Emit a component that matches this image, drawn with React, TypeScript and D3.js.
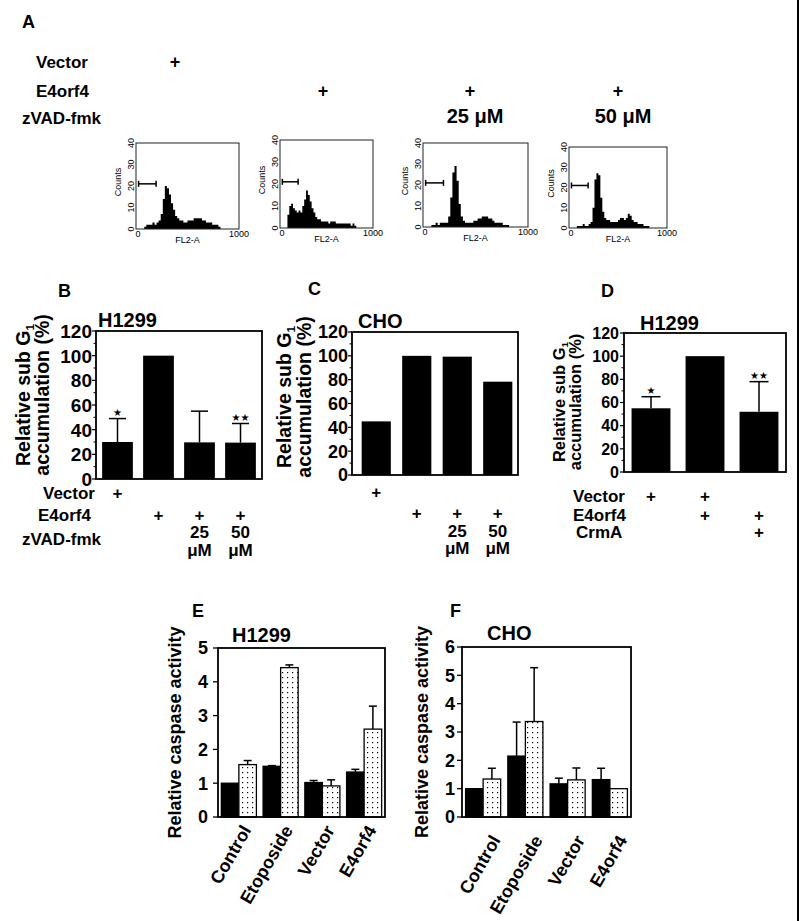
import React from 'react';
import * as d3 from 'd3';

const FONT = "'Liberation Sans', Arial, Helvetica, sans-serif";

// ---------- Panel A: DNA-content histograms (counts per 20-unit FL2-A bin, 0..1000) ----------
const HIST_BIN = 20;
const HIST_COUNT_TICKS = [0, 10, 20, 30, 40];
const HIST_GATE = [25, 195];
const HIST_GATE_COUNT = 21;
const histVector = [0,0,0,0,1,2,2,2,3,2,3,4,7,14,20,19,16,12,9,6,5,4,4,3,3,4,4,4,5,5,5,5,4,4,3,3,3,2,2,2,1,0,0,0,0,0,0,0,0,0];
const histE4orf4 = [0,0,0,0,6,10,11,9,8,7,8,7,10,13,17,15,12,9,7,5,4,4,3,3,3,3,2,3,3,3,2,2,2,2,2,2,2,2,1,2,1,0,0,0,0,0,0,0,0,0];
const histZvad25 = [0,0,0,0,1,1,2,1,2,2,2,2,5,14,26,29,22,11,5,3,2,2,2,2,3,3,4,4,5,5,5,4,4,3,2,2,2,2,1,1,1,0,0,0,0,0,0,0,0,0];
const histZvad50 = [0,0,0,0,1,1,1,2,1,1,2,3,10,24,27,26,15,8,5,4,4,3,3,3,3,4,5,5,4,5,7,6,4,3,3,2,2,2,1,1,1,0,0,0,0,0,0,0,0,0];

// ---------- Panels B, C, D: relative sub-G1 accumulation (%) ----------
const SUBG1_TICKS = [0, 20, 40, 60, 80, 100, 120];
const SUBG1_MINOR = [10, 30, 50, 70, 90, 110];
const B_VALUES = [30, 100, 29.7, 29.5];
const B_ERR_TOP = [49, null, 55, 45];
const B_STARS = ['★', '', '', '★★'];
const C_VALUES = [45, 100, 99.3, 78.3];
const D_VALUES = [55, 100, 52];
const D_ERR_TOP = [65, null, 78];
const D_STARS = ['★', '', '★★'];
const ZVAD_VECTOR = ['+', '', '', ''];
const ZVAD_E4ORF4 = ['', '+', '+', '+'];
const ZVAD_DOSE = ['', '', '25', '50'];
const ZVAD_UNIT = ['', '', 'μM', 'μM'];
const CRMA_VECTOR = ['+', '+', ''];
const CRMA_E4ORF4 = ['', '+', '+'];
const CRMA_CRMA = ['', '', '+'];

// ---------- Panels E, F: relative caspase activity ----------
const CASPASE_GROUPS = ['Control', 'Etoposide', 'Vector', 'E4orf4'];
const E_TICKS = [0, 1, 2, 3, 4, 5];
const E_SOLID = [1.0, 1.5, 1.02, 1.33];
const E_SOLID_ERR = [0, 0.02, 0.06, 0.08];
const E_DOTTED = [1.55, 4.42, 0.92, 2.6];
const E_DOTTED_ERR = [0.12, 0.08, 0.18, 0.68];
const F_TICKS = [0, 1, 2, 3, 4, 5, 6];
const F_SOLID = [1.0, 2.15, 1.17, 1.32];
const F_SOLID_ERR = [0, 1.2, 0.2, 0.4];
const F_DOTTED = [1.34, 3.37, 1.31, 1.0];
const F_DOTTED_ERR = [0.38, 1.9, 0.42, 0];

type Frame = { x0: number; x1: number; y0: number; y1: number };

function Histogram({ data, f }: { data: number[]; f: Frame }) {
  const x = d3.scaleLinear().domain([0, 1000]).range([f.x0, f.x1]);
  const y = d3.scaleLinear().domain([0, 40]).range([f.y1, f.y0]);
  const pts: [number, number][] = data.map((c, i) => [i * HIST_BIN, c]);
  pts.push([1000, data[data.length - 1]]);
  const area = d3
    .area<[number, number]>()
    .x((d) => x(d[0]))
    .y0(y(0))
    .y1((d) => y(d[1]))
    .curve(d3.curveStepAfter);
  const gy = y(HIST_GATE_COUNT);
  const cy = (f.y0 + f.y1) / 2;
  return (
    <g fontFamily={FONT} fontSize={9}>
      <path d={area(pts) || ''} fill="#000" />
      <rect x={f.x0} y={f.y0} width={f.x1 - f.x0} height={f.y1 - f.y0} fill="none" stroke="#222" strokeWidth={1} />
      <line x1={x(HIST_GATE[0])} x2={x(HIST_GATE[1])} y1={gy} y2={gy} stroke="#000" strokeWidth={1.5} />
      <line x1={x(HIST_GATE[0])} x2={x(HIST_GATE[0])} y1={gy - 3} y2={gy + 3} stroke="#000" strokeWidth={1.5} />
      <line x1={x(HIST_GATE[1])} x2={x(HIST_GATE[1])} y1={gy - 3} y2={gy + 3} stroke="#000" strokeWidth={1.5} />
      {HIST_COUNT_TICKS.map((t) => (
        <text key={t} transform={`translate(${f.x0 - 2},${y(t)}) rotate(-90)`} textAnchor="middle">
          {t}
        </text>
      ))}
      <text transform={`translate(${f.x0 - 15},${cy - 4}) rotate(-90)`} textAnchor="middle">
        Counts
      </text>
      <text x={x(0) + 2} y={f.y1 + 8} textAnchor="middle">0</text>
      <text x={x(1000)} y={f.y1 + 8} textAnchor="middle">1000</text>
      <text x={(f.x0 + f.x1) / 2} y={f.y1 + 14} textAnchor="middle">FL2-A</text>
    </g>
  );
}

function PanelA() {
  const bold = { fontWeight: 'bold' as const, fontFamily: FONT };
  return (
    <g>
      <text x={22} y={28} fontSize={18} {...bold}>A</text>
      <text x={36} y={68} fontSize={17} {...bold}>Vector</text>
      <text x={36} y={97} fontSize={17} {...bold}>E4orf4</text>
      <text x={22} y={124} fontSize={17} {...bold}>zVAD-fmk</text>
      <text x={175} y={68} fontSize={18} textAnchor="middle" {...bold}>+</text>
      <text x={323} y={97} fontSize={18} textAnchor="middle" {...bold}>+</text>
      <text x={470} y={97} fontSize={18} textAnchor="middle" {...bold}>+</text>
      <text x={618} y={97} fontSize={18} textAnchor="middle" {...bold}>+</text>
      <text x={475} y={123} fontSize={20} textAnchor="middle" {...bold}>25 μM</text>
      <text x={623} y={123} fontSize={20} textAnchor="middle" {...bold}>50 μM</text>
      <Histogram data={histVector} f={{ x0: 136, x1: 239, y0: 143, y1: 229 }} />
      <Histogram data={histE4orf4} f={{ x0: 280, x1: 373, y0: 140, y1: 228 }} />
      <Histogram data={histZvad25} f={{ x0: 423, x1: 528, y0: 143, y1: 227 }} />
      <Histogram data={histZvad50} f={{ x0: 569, x1: 667, y0: 147, y1: 228 }} />
    </g>
  );
}

type Row = { label?: string; lx?: number; lb?: number; base: number; marks: string[] };

function SubG1Chart(p: {
  letter: string; letterPos: [number, number];
  title: string; titlePos: [number, number];
  values: number[]; errTop?: (number | null)[]; stars?: string[];
  f: Frame; band: [number, number]; padIn: number; padOut: number;
  tickFont: number; tickGap: number;
  ylab: { a: number; b: number; cy: number; fs: number };
  rows: Row[]; capW: number;
}) {
  const idx = d3.range(p.values.length).map(String);
  const x = d3.scaleBand().domain(idx).range(p.band).paddingInner(p.padIn).paddingOuter(p.padOut);
  const y = d3.scaleLinear().domain([0, 120]).range([p.f.y1, p.f.y0]);
  const bw = x.bandwidth();
  const cx = (i: number) => (x(String(i)) as number) + bw / 2;
  return (
    <g fontFamily={FONT} fontWeight="bold">
      <text x={p.letterPos[0]} y={p.letterPos[1]} fontSize={18}>{p.letter}</text>
      <text x={p.titlePos[0]} y={p.titlePos[1]} fontSize={20}>{p.title}</text>
      {p.values.map((v, i) => (
        <rect key={i} x={x(String(i))} y={y(v)} width={bw} height={y(0) - y(v)} fill="#000" />
      ))}
      {p.errTop &&
        p.errTop.map((e, i) =>
          e == null ? null : (
            <g key={i} stroke="#000" strokeWidth={1.5}>
              <line x1={cx(i)} x2={cx(i)} y1={y(p.values[i])} y2={y(e)} />
              <line x1={cx(i) - p.capW / 2} x2={cx(i) + p.capW / 2} y1={y(e)} y2={y(e)} />
            </g>
          )
        )}
      {p.stars &&
        p.stars.map((s, i) =>
          s && p.errTop && p.errTop[i] != null ? (
            <text key={i} x={cx(i)} y={y(p.errTop[i] as number) - 3} fontSize={10} textAnchor="middle"
              fontFamily="'DejaVu Sans', sans-serif" fontWeight="normal">{s}</text>
          ) : null
        )}
      <rect x={p.f.x0} y={p.f.y0} width={p.f.x1 - p.f.x0} height={p.f.y1 - p.f.y0} fill="none" stroke="#000" strokeWidth={1.8} />
      {SUBG1_TICKS.map((t) => (
        <g key={t}>
          <line x1={p.f.x0 - 4} x2={p.f.x0} y1={y(t)} y2={y(t)} stroke="#000" strokeWidth={1.2} />
          <text x={p.f.x0 - p.tickGap} y={y(t)} dy="0.36em" textAnchor="end" fontSize={p.tickFont}>{t}</text>
        </g>
      ))}
      {SUBG1_MINOR.map((t) => (
        <line key={t} x1={p.f.x0 - 2.5} x2={p.f.x0} y1={y(t)} y2={y(t)} stroke="#000" strokeWidth={1} />
      ))}
      <text transform={`translate(${p.ylab.a},${p.ylab.cy}) rotate(-90)`} textAnchor="middle" fontSize={p.ylab.fs}>
        Relative sub G<tspan fontSize="0.6em" dy="0.3em">1</tspan>
      </text>
      <text transform={`translate(${p.ylab.b},${p.ylab.cy}) rotate(-90)`} textAnchor="middle" fontSize={p.ylab.fs}>
        accumulation (%)
      </text>
      {p.rows.map((r, ri) => (
        <g key={ri} fontSize={17}>
          {r.label && <text x={r.lx} y={r.lb ?? r.base}>{r.label}</text>}
          {r.marks.map((m, i) => (m ? <text key={i} x={cx(i)} y={r.base} textAnchor="middle">{m}</text> : null))}
        </g>
      ))}
    </g>
  );
}

function CaspaseChart(p: {
  letter: string; letterPos: [number, number];
  title: string; titlePos: [number, number];
  f: Frame; max: number; ticks: number[];
  band: [number, number]; padIn: number; padOut: number;
  solid: number[]; solidErr: number[]; dotted: number[]; dottedErr: number[];
  tickGap: number; ylabX: number; lab: { dx: number; dy: number };
}) {
  const x = d3.scaleBand().domain(CASPASE_GROUPS).range(p.band).paddingInner(p.padIn).paddingOuter(p.padOut);
  const inner = d3.scaleBand().domain(['solid', 'dotted']).range([0, x.bandwidth()]);
  const y = d3.scaleLinear().domain([0, p.max]).range([p.f.y1, p.f.y0]);
  const iw = inner.bandwidth();
  const series = [
    { key: 'solid', vals: p.solid, errs: p.solidErr, fill: '#000' },
    { key: 'dotted', vals: p.dotted, errs: p.dottedErr, fill: 'url(#dots)' },
  ];
  return (
    <g fontFamily={FONT} fontWeight="bold">
      <text x={p.letterPos[0]} y={p.letterPos[1]} fontSize={18}>{p.letter}</text>
      <text x={p.titlePos[0]} y={p.titlePos[1]} fontSize={20}>{p.title}</text>
      {series.map((s) =>
        CASPASE_GROUPS.map((g, i) => {
          const bx = (x(g) as number) + (inner(s.key) as number);
          const v = s.vals[i];
          const e = s.errs[i];
          const c = bx + iw / 2;
          return (
            <g key={s.key + g}>
              {e > 0 && (
                <g stroke="#000" strokeWidth={1.5}>
                  <line x1={c} x2={c} y1={y(v)} y2={y(v + e)} />
                  <line x1={c - 4} x2={c + 4} y1={y(v + e)} y2={y(v + e)} />
                </g>
              )}
              <rect x={bx} y={y(v)} width={iw} height={y(0) - y(v)} fill={s.fill} stroke="#000" strokeWidth={1.3} />
            </g>
          );
        })
      )}
      <rect x={p.f.x0} y={p.f.y0} width={p.f.x1 - p.f.x0} height={p.f.y1 - p.f.y0} fill="none" stroke="#000" strokeWidth={1.8} />
      {p.ticks.map((t) => (
        <g key={t}>
          <line x1={p.f.x0 - 5} x2={p.f.x0} y1={y(t)} y2={y(t)} stroke="#000" strokeWidth={1.3} />
          <text x={p.f.x0 - p.tickGap} y={y(t)} dy="0.36em" textAnchor="end" fontSize={18}>{t}</text>
        </g>
      ))}
      <text transform={`translate(${p.ylabX},${(p.f.y0 + p.f.y1) / 2}) rotate(-90)`} textAnchor="middle" fontSize={18}>
        Relative caspase activity
      </text>
      {CASPASE_GROUPS.map((g) => {
        const c = (x(g) as number) + x.bandwidth() / 2;
        return (
          <text key={g} transform={`translate(${c + p.lab.dx},${p.f.y1 + p.lab.dy}) rotate(-60)`} textAnchor="end" fontSize={18}>
            {g}
          </text>
        );
      })}
    </g>
  );
}

export default function App() {
  return (
    <svg width={800} height={921} style={{ position: 'absolute', left: 0, top: 0, background: '#fff' }}>
      <defs>
        <pattern id="dots" width={5} height={5} patternUnits="userSpaceOnUse">
          <rect width={5} height={5} fill="#fff" />
          <rect x={2} y={2} width={1.2} height={1.2} fill="#000" />
        </pattern>
      </defs>
      <rect width={800} height={921} fill="#fff" />
      <PanelA />
      <SubG1Chart
        letter="B" letterPos={[58, 297]} title="H1299" titlePos={[98, 327]}
        values={B_VALUES} errTop={B_ERR_TOP} stars={B_STARS}
        f={{ x0: 96, x1: 262, y0: 331, y1: 479 }} band={[97, 261]} padIn={0.25} padOut={0.125}
        tickFont={19} tickGap={4} ylab={{ a: 30, b: 49, cy: 395, fs: 19.5 }} capW={17}
        rows={[
          { label: 'Vector', lx: 43, base: 499, marks: ZVAD_VECTOR },
          { label: 'E4orf4', lx: 38, base: 521, marks: ZVAD_E4ORF4 },
          { label: 'zVAD-fmk', lx: 22, lb: 545, base: 538, marks: ZVAD_DOSE },
          { base: 556, marks: ZVAD_UNIT },
        ]}
      />
      <SubG1Chart
        letter="C" letterPos={[308, 295]} title="CHO" titlePos={[358, 328]}
        values={C_VALUES}
        f={{ x0: 352, x1: 518, y0: 332, y1: 475 }} band={[356, 518]} padIn={0.28} padOut={0.14}
        tickFont={18} tickGap={4} ylab={{ a: 291, b: 311, cy: 397, fs: 19.5 }} capW={17}
        rows={[
          { base: 498, marks: ZVAD_VECTOR },
          { base: 519, marks: ZVAD_E4ORF4 },
          { base: 537, marks: ZVAD_DOSE },
          { base: 554, marks: ZVAD_UNIT },
        ]}
      />
      <SubG1Chart
        letter="D" letterPos={[601, 297]} title="H1299" titlePos={[640, 330]}
        values={D_VALUES} errTop={D_ERR_TOP} stars={D_STARS}
        f={{ x0: 624, x1: 786, y0: 333, y1: 472 }} band={[624, 786]} padIn={0.28} padOut={0.14}
        tickFont={16} tickGap={5} ylab={{ a: 565, b: 581, cy: 402, fs: 16.5 }} capW={19}
        rows={[
          { label: 'Vector', lx: 573, base: 502, marks: CRMA_VECTOR },
          { label: 'E4orf4', lx: 573, base: 521, marks: CRMA_E4ORF4 },
          { label: 'CrmA', lx: 576, base: 538, marks: CRMA_CRMA },
        ]}
      />
      <CaspaseChart
        letter="E" letterPos={[192, 617]} title="H1299" titlePos={[232, 642]}
        f={{ x0: 218, x1: 385, y0: 648, y1: 817 }} max={5} ticks={E_TICKS}
        band={[218, 385]} padIn={0.16} padOut={0.08}
        solid={E_SOLID} solidErr={E_SOLID_ERR} dotted={E_DOTTED} dottedErr={E_DOTTED_ERR}
        tickGap={10} ylabX={181} lab={{ dx: 13, dy: 13 }}
      />
      <CaspaseChart
        letter="F" letterPos={[450, 617]} title="CHO" titlePos={[487, 640]}
        f={{ x0: 462, x1: 631, y0: 647, y1: 817 }} max={6} ticks={F_TICKS}
        band={[462, 631]} padIn={0.17} padOut={0.085}
        solid={F_SOLID} solidErr={F_SOLID_ERR} dotted={F_DOTTED} dottedErr={F_DOTTED_ERR}
        tickGap={7} ylabX={428} lab={{ dx: 18, dy: 23 }}
      />
      <line x1={798} x2={798} y1={0} y2={921} stroke="#000" strokeWidth={2} />
    </svg>
  );
}
